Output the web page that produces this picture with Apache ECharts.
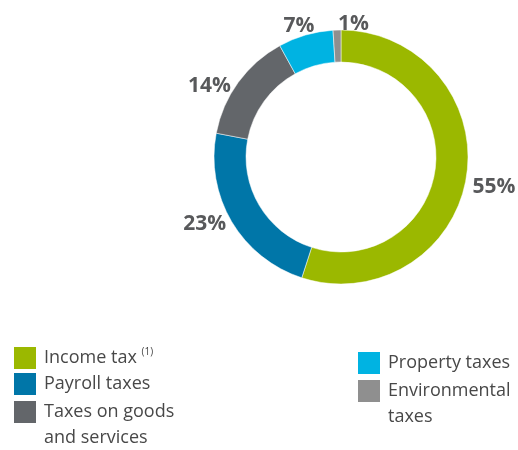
<!DOCTYPE html>
<html>
<head>
<meta charset="utf-8">
<script src="https://cdn.jsdelivr.net/npm/echarts@6/dist/echarts.min.js"></script>
<style>
  html, body { margin: 0; padding: 0; background: #fff; }
  #chart { width: 518px; height: 450px; }
</style>
</head>
<body>
<div id="chart"></div>
<script>
// Tax categories and their share of the total (percent)
const categories = ['Income tax', 'Payroll taxes', 'Taxes on goods and services', 'Property taxes', 'Environmental taxes'];
const shares = [55, 23, 14, 7, 1];
const colors = ['#9bb800', '#0076a8', '#63666a', '#00b3e2', '#8f8f8f'];
// Legend groups: single-line entries and two-line entries
const legendLeft = ['Income tax', 'Payroll taxes'];
const legendLeftWrapped = ['Taxes on goods and services'];
const legendRight = ['Property taxes'];
const legendRightWrapped = ['Environmental taxes'];
// Small nudges for the percentage labels around the ring
const labelOffsets = [[-3, 10], [3, 0], [1, 6], [15, -5], [37, -2]];

const chart = echarts.init(document.getElementById('chart'));

const legendText = {
  fontFamily: 'Open Sans',
  fontSize: 18,
  color: '#484848',
  lineHeight: 22,
  padding: [0, 0, 0, 3],
  rich: {
    sup: { fontFamily: 'Open Sans', fontSize: 10, lineHeight: 10, color: '#484848', padding: [0, 0, 12, 0] }
  }
};

function legendFormatter(name) {
  return name === 'Income tax' ? name + ' {sup|(1)}' : name;
}

const baseLegend = {
  orient: 'vertical',
  icon: 'rect',
  itemWidth: 22,
  itemHeight: 22,
  itemGap: 4,
  height: 200,
  padding: 0,
  selectedMode: false,
  itemStyle: { borderWidth: 0 },
  textStyle: legendText,
  formatter: legendFormatter
};

// Two-line entries: square swatch sits beside the first line only
const wrappedLegend = Object.assign({}, baseLegend, {
  itemHeight: 48,
  icon: 'path://M0 0H22V22H0Z M0 48H22',
  textStyle: Object.assign({}, legendText, { lineHeight: 26, width: 140, overflow: 'break' })
});

chart.setOption({
  animation: false,
  color: colors,
  legend: [
    Object.assign({}, baseLegend, { left: 14, top: 347, data: legendLeft }),
    Object.assign({}, wrappedLegend, { left: 14, top: 399, data: legendLeftWrapped }),
    Object.assign({}, baseLegend, { left: 358, top: 352, data: legendRight }),
    Object.assign({}, wrappedLegend, { left: 358, top: 378, data: legendRightWrapped })
  ],
  series: [{
    type: 'pie',
    center: [341, 157],
    radius: [95, 127],
    startAngle: 90,
    clockwise: true,
    avoidLabelOverlap: false,
    itemStyle: { borderColor: '#fff', borderWidth: 0.5 },
    label: {
      show: true,
      position: 'outside',
      formatter: '{c}%',
      fontFamily: 'Open Sans',
      fontWeight: 'bold',
      fontSize: 21,
      color: '#58595b'
    },
    labelLine: { show: false, length: 4, length2: 0 },
    data: categories.map(function (c, i) {
      return { name: c, value: shares[i], label: { offset: labelOffsets[i] } };
    })
  }]
});
</script>
</body>
</html>
